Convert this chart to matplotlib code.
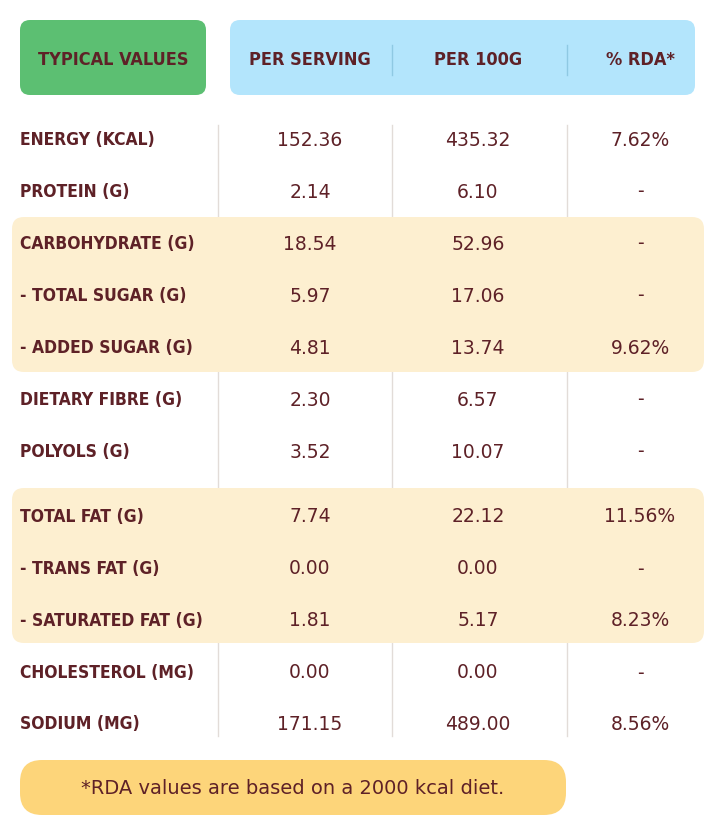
import matplotlib.pyplot as plt
from matplotlib.patches import FancyBboxPatch

nutrients = ["ENERGY (KCAL)", "PROTEIN (G)", "CARBOHYDRATE (G)", "- TOTAL SUGAR (G)",
             "- ADDED SUGAR (G)", "DIETARY FIBRE (G)", "POLYOLS (G)", "TOTAL FAT (G)",
             "- TRANS FAT (G)", "- SATURATED FAT (G)", "CHOLESTEROL (MG)", "SODIUM (MG)"]
per_serving = ["152.36", "2.14", "18.54", "5.97", "4.81", "2.30", "3.52",
               "7.74", "0.00", "1.81", "0.00", "171.15"]
per_100g = ["435.32", "6.10", "52.96", "17.06", "13.74", "6.57", "10.07",
            "22.12", "0.00", "5.17", "0.00", "489.00"]
rda = ["7.62%", "-", "-", "-", "9.62%", "-", "-", "11.56%", "-", "8.23%", "-", "8.56%"]
headers = ["TYPICAL VALUES", "PER SERVING", "PER 100G", "% RDA*"]
footnote = "*RDA values are based on a 2000 kcal diet."

row_y = [140, 192, 244, 296, 348, 400, 452, 517, 569, 621, 673, 724]
col_x = [310, 478, 640]
TXT = "#5e2127"
HEAD_FONT = dict(family="DejaVu Sans", fontstretch="condensed", fontweight="bold")

fig = plt.figure(figsize=(7.16, 8.36), dpi=100)
ax = fig.add_axes([0, 0, 1, 1])
ax.set_xlim(0, 716)
ax.set_ylim(836, 0)
ax.axis("off")


def pill(x0, y0, x1, y1, color, r=10):
    ax.add_patch(FancyBboxPatch((x0 + r, y0 + r), x1 - x0 - 2 * r, y1 - y0 - 2 * r,
                                boxstyle=f"round,pad={r}", fc=color, ec="none"))


# header boxes
pill(20, 20, 206, 95, "#5cbf72")
pill(230, 20, 695, 95, "#b3e5fc")
for x in (392, 567):
    ax.plot([x, x], [45, 75], color="#8fc9e3", lw=1)

# highlighted groups
pill(12, 217, 704, 372, "#fdefd0", r=12)
pill(12, 488, 704, 643, "#fdefd0", r=12)

# column dividers
for x in (218, 392, 567):
    ax.plot([x, x], [125, 736], color="#e2dcd8", lw=1, zorder=0.5)

ax.text(113, 60, headers[0], ha="center", va="center", fontsize=13, color=TXT, **HEAD_FONT)
for x, h in zip(col_x, headers[1:]):
    ax.text(x, 60, h, ha="center", va="center", fontsize=13, color=TXT, **HEAD_FONT)

for i, y in enumerate(row_y):
    ax.text(20, y, nutrients[i], ha="left", va="center", fontsize=12.5, color=TXT, **HEAD_FONT)
    for x, v in zip(col_x, (per_serving[i], per_100g[i], rda[i])):
        ax.text(x, y, v, ha="center", va="center", fontsize=13.5, color=TXT)

pill(20, 760, 566, 815, "#fdd57a", r=22)
ax.text(293, 788, footnote, ha="center", va="center", fontsize=14, color=TXT)

fig.savefig("out.png", dpi=100)
